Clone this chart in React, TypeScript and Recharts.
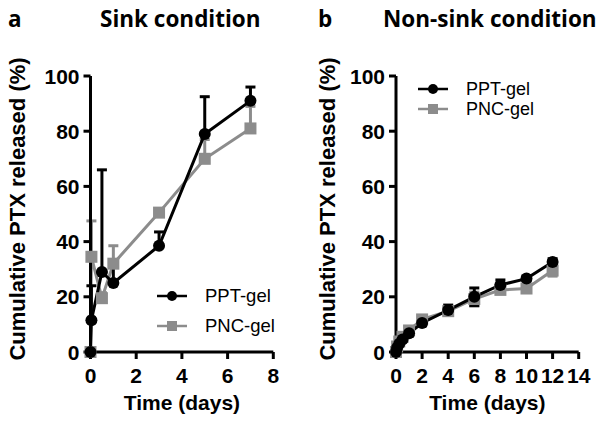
import { LineChart, Line, XAxis, YAxis, ErrorBar, Label } from 'recharts';

// panel a: sink condition
const SINK_DAYS = [0, 0.04, 0.5, 1, 3, 5, 7];
const SINK_PPT = [0, 11.5, 29, 25, 38.5, 79, 91];
const SINK_PPT_ERR = [0, 12.5, 37, 6, 5, 13.5, 5];
const SINK_PNC = [0, 34.5, 19.5, 32, 50.5, 70, 81];
const SINK_PNC_ERR = [0, 13, 2, 6.5, 1, 7, 8];

// panel b: non-sink condition
const NS_DAYS = [0, 0.083, 0.25, 0.5, 1, 2, 4, 6, 8, 10, 12];
const NS_PPT = [0, 1.5, 3, 4.5, 6.8, 10.5, 15.2, 20, 24.3, 26.6, 32.6];
const NS_PPT_ERR = [0, 0.5, 0.5, 0.7, 1, 1, 1.8, 3.2, 1.8, 0.8, 1.2];
const NS_PNC = [0, 2, 3.8, 5.5, 7.8, 11.8, 14.8, 19.2, 22.5, 23, 29.5];
const NS_PNC_ERR = [0, 0.5, 0.5, 0.6, 0.8, 0.8, 1.5, 2.5, 1.2, 1, 2];

const Y_TICKS = [0, 20, 40, 60, 80, 100];
const SINK_X_TICKS = [0, 2, 4, 6, 8];
const NS_X_TICKS = [0, 2, 4, 6, 8, 10, 12, 14];

const SERIES = [
  { key: 'ppt', name: 'PPT-gel', color: '#000000', shape: 'circle' },
  { key: 'pnc', name: 'PNC-gel', color: '#8c8c8c', shape: 'square' },
];

const ARIAL = "'Liberation Sans', Arial, sans-serif";
const TITLE_FONT = "'Open Sans', Lato, sans-serif";

const sinkData = SINK_DAYS.map((d, i) => ({
  day: d,
  ppt: SINK_PPT[i],
  pnc: SINK_PNC[i],
  pptErr: [0, SINK_PPT_ERR[i]],
  pncErr: [0, SINK_PNC_ERR[i]],
}));

const nsData = NS_DAYS.map((d, i) => ({
  day: d,
  ppt: NS_PPT[i],
  pnc: NS_PNC[i],
  pptErr: NS_PPT_ERR[i],
  pncErr: NS_PNC_ERR[i],
}));

const textStyle = { fontFamily: ARIAL, fontWeight: 700, fill: '#000' };

function XTick(props: any) {
  const { x, y, payload } = props;
  return (
    <text x={x} y={y + 22} textAnchor="middle" style={{ ...textStyle, fontSize: 21 }}>
      {payload.value}
    </text>
  );
}

function YTick(props: any) {
  const { x, y, payload } = props;
  return (
    <text x={x} y={y + 7.5} textAnchor="end" style={{ ...textStyle, fontSize: 21 }}>
      {payload.value}
    </text>
  );
}

function SquareDot(props: any) {
  const { cx, cy, fill } = props;
  if (cx == null || cy == null) return null;
  return <rect x={cx - 6} y={cy - 6} width={12} height={12} fill={fill} />;
}

function Marker({ shape, color }: { shape: string; color: string }) {
  return (
    <svg width={30} height={14} style={{ display: 'block' }}>
      <line x1={0} y1={7} x2={30} y2={7} stroke={color} strokeWidth={2.5} />
      {shape === 'circle' ? (
        <circle cx={15} cy={7} r={5} fill={color} />
      ) : (
        <rect x={10} y={2} width={10} height={10} fill={color} />
      )}
    </svg>
  );
}

function ChartLegend(props: { left: number; top: number; rowGap: number; fontSize: number }) {
  const { left, top, rowGap, fontSize } = props;
  return (
    <div style={{ position: 'absolute', left, top, display: 'flex', flexDirection: 'column', gap: rowGap }}>
      {SERIES.map((s) => (
        <div key={s.key} style={{ display: 'flex', alignItems: 'center', height: 14 }}>
          <Marker shape={s.shape} color={s.color} />
          <span style={{ marginLeft: 18, fontFamily: ARIAL, fontSize, color: '#000', lineHeight: '14px' }}>
            {s.name}
          </span>
        </div>
      ))}
    </div>
  );
}

function yLabel(offsetX: number) {
  return (props: any) => {
    const vb = props.viewBox;
    const x = vb.x + offsetX;
    const y = vb.y + vb.height / 2 - 5;
    return (
      <text
        x={x}
        y={y}
        transform={`rotate(-90, ${x}, ${y})`}
        textAnchor="middle"
        dominantBaseline="central"
        style={{ ...textStyle, fontSize: 22 }}
      >
        Cumulative PTX released (%)
      </text>
    );
  };
}

function xLabel(props: any) {
  const vb = props.viewBox;
  return (
    <text x={vb.x + vb.width / 2} y={vb.y + 58} textAnchor="middle" style={{ ...textStyle, fontSize: 21 }}>
      Time (days)
    </text>
  );
}

function Panel(props: {
  data: any[];
  xMax: number;
  xTicks: number[];
  yAxisWidth: number;
  right: number;
  labelX: number;
}) {
  const { data, xMax, xTicks, yAxisWidth, right, labelX } = props;
  return (
    <LineChart width={302} height={428} data={data} margin={{ top: 76, right, bottom: 26, left: 0 }}>
      <XAxis
        dataKey="day"
        type="number"
        domain={[0, xMax]}
        ticks={xTicks}
        height={50}
        tick={<XTick />}
        tickSize={7}
        axisLine={{ stroke: '#000', strokeWidth: 3 }}
        tickLine={{ stroke: '#000', strokeWidth: 3 }}
        interval={0}
      >
        <Label content={xLabel} />
      </XAxis>
      <YAxis
        type="number"
        domain={[0, 100]}
        ticks={Y_TICKS}
        width={yAxisWidth}
        tick={<YTick />}
        tickSize={7}
        tickMargin={4}
        axisLine={{ stroke: '#000', strokeWidth: 3 }}
        tickLine={{ stroke: '#000', strokeWidth: 3 }}
        interval={0}
      >
        <Label content={yLabel(labelX)} />
      </YAxis>
      <Line
        dataKey="pnc"
        name="PNC-gel"
        stroke="#8c8c8c"
        strokeWidth={3}
        dot={<SquareDot fill="#8c8c8c" />}
        isAnimationActive={false}
      >
        <ErrorBar dataKey="pncErr" width={5} strokeWidth={3} stroke="#8c8c8c" direction="y" />
      </Line>
      <Line
        dataKey="ppt"
        name="PPT-gel"
        stroke="#000"
        strokeWidth={3}
        dot={{ r: 6, fill: '#000', stroke: '#000', strokeWidth: 0 }}
        isAnimationActive={false}
      >
        <ErrorBar dataKey="pptErr" width={5} strokeWidth={3} stroke="#000" direction="y" />
      </Line>
    </LineChart>
  );
}

const titleStyle = {
  position: 'absolute' as const,
  top: 6,
  fontFamily: TITLE_FONT,
  fontWeight: 700,
  fontSize: 22.5,
  lineHeight: '26px',
  color: '#000',
  whiteSpace: 'nowrap' as const,
};

export default function App() {
  return (
    <div style={{ position: 'absolute', left: 0, top: 0, width: 604, height: 428, background: '#fff' }}>
      <div style={{ position: 'absolute', left: 0, top: 0 }}>
        <Panel data={sinkData} xMax={8} xTicks={SINK_X_TICKS} yAxisWidth={90.5} right={28.7} labelX={17} />
      </div>
      <div style={{ position: 'absolute', left: 302, top: 0 }}>
        <Panel data={nsData} xMax={14} xTicks={NS_X_TICKS} yAxisWidth={94} right={25.3} labelX={25} />
      </div>
      <ChartLegend left={157} top={288.5} rowGap={16} fontSize={18.5} />
      <ChartLegend left={418} top={82} rowGap={6} fontSize={18} />
      <div style={{ ...titleStyle, left: 8 }}>a</div>
      <div style={{ ...titleStyle, left: 100 }}>Sink condition</div>
      <div style={{ ...titleStyle, left: 318 }}>b</div>
      <div style={{ ...titleStyle, left: 383 }}>Non-sink condition</div>
    </div>
  );
}
